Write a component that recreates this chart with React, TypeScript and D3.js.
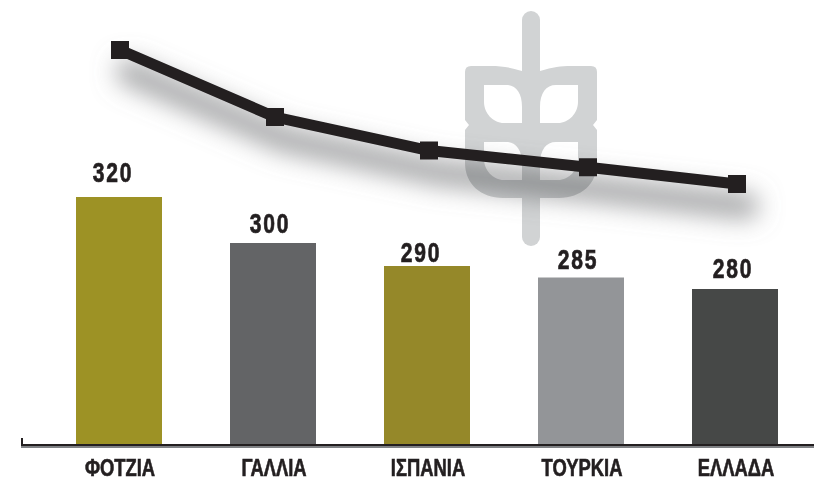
import React, { useEffect, useRef } from 'react';
import * as d3 from 'd3';

const categories = ['ΦΟΤΖΙΑ', 'ΓΑΛΛΙΑ', 'ΙΣΠΑΝΙΑ', 'ΤΟΥΡΚΙΑ', 'ΕΛΛΑΔΑ'];
const values = [320, 300, 290, 285, 280];
const barColors = ['#9d9225', '#636466', '#958829', '#939598', '#464847'];

// hand nudges, the original is laid out by hand and labels do not sit centred
const labelDx = [-6, -3, -6, -3, -2];
const labelGap = [15, 10, 4, 9, 11];
const pointDx = [1, 2, 2, 7, 2];

// no condensed face is installed, so Liberation Sans gets squeezed
const FONT = '"Liberation Sans", sans-serif';
const INK = '#231f20';

const App = () => {
  const container = useRef<HTMLDivElement | null>(null);

  useEffect(() => {
    if (!container.current) return;
    d3.select(container.current).select('svg').remove();

    const width = 814, height = 480, baseline = 445;

    const svg = d3.select(container.current)
      .append('svg')
      .attr('width', width)
      .attr('height', height)
      .style('position', 'absolute')
      .style('left', 0)
      .style('top', 0);

    const x = d3.scaleBand<string>()
      .domain(categories)
      .range([76, 778])
      .paddingInner(68 / 154)
      .paddingOuter(0);

    const yBar = d3.scaleLinear().domain([280, 320]).range([289, 197]);
    const yLine = d3.scaleLinear().domain([280, 320]).range([184, 50]);

    const blur = svg.append('defs').append('filter')
      .attr('id', 'shade')
      .attr('x', '-20%').attr('y', '-60%')
      .attr('width', '140%').attr('height', '220%');
    blur.append('feGaussianBlur').attr('stdDeviation', 12);

    // wheat emblem, left half is mirrored for the right one
    const wheat = svg.append('g').attr('transform', 'translate(531,0)');
    const leaf = 'M-9,71 C-22,67 -30,66 -40,66 L-60,66 Q-66,66 -66,72 L-66,120 L-62,125 L-66,130 L-66,163 '
      + 'C-66,184 -50,198 -28,198 L-9,198 Z '
      + 'M-47,85 L-25,85 C-15,85 -9,93 -9,107 L-9,123 L-27,123 C-38,123 -47,113 -47,102 Z '
      + 'M-47,142 L-25,142 C-15,142 -9,150 -9,164 L-9,180 L-27,180 C-38,180 -47,170 -47,159 Z';
    [1, -1].forEach(s => {
      wheat.append('path')
        .attr('d', leaf)
        .attr('transform', `scale(${s},1)`)
        .attr('fill', '#d1d3d4')
        .attr('fill-rule', 'evenodd');
    });
    wheat.append('rect')
      .attr('x', -9).attr('y', 11)
      .attr('width', 18).attr('height', 235)
      .attr('rx', 9)
      .attr('fill', '#d1d3d4');

    const points = values.map((v, i) => [(x(categories[i]) as number) + x.bandwidth() / 2 + pointDx[i], yLine(v)] as [number, number]);
    const line = d3.line();

    // soft shadow under the line
    svg.append('path')
      .attr('d', line(points))
      .attr('transform', 'translate(9,22)')
      .attr('fill', 'none')
      .attr('stroke', '#6d6e71')
      .attr('stroke-width', 26)
      .attr('stroke-linecap', 'round')
      .attr('opacity', 0.6)
      .style('mix-blend-mode', 'multiply')
      .attr('filter', 'url(#shade)');

    svg.selectAll('.bar')
      .data(values)
      .enter()
      .append('rect')
      .attr('class', 'bar')
      .attr('x', (d, i) => x(categories[i]) as number)
      .attr('y', d => yBar(d))
      .attr('width', x.bandwidth())
      .attr('height', d => baseline + 2 - yBar(d))
      .attr('fill', (d, i) => barColors[i]);

    svg.selectAll('.value')
      .data(values)
      .enter()
      .append('text')
      .attr('class', 'value')
      .attr('transform', (d, i) => `translate(${(x(categories[i]) as number) + x.bandwidth() / 2 + labelDx[i]},${yBar(d) - labelGap[i]}) scale(0.78,1)`)
      .attr('text-anchor', 'middle')
      .attr('font-family', FONT)
      .attr('font-weight', 700)
      .attr('font-size', 27)
      .attr('letter-spacing', 2.4)
      .attr('fill', INK)
      .attr('stroke', INK)
      .attr('stroke-width', 0.7)
      .text(d => d);

    // baseline with its small left tick and thin grey edge
    svg.append('rect').attr('x', 21).attr('y', baseline + 1).attr('width', width - 21).attr('height', 2).attr('fill', '#808285');
    svg.append('path')
      .attr('d', `M22,${baseline - 7}V${baseline}H${width}`)
      .attr('fill', 'none')
      .attr('stroke', INK)
      .attr('stroke-width', 2);

    const axis = svg.append('g')
      .attr('transform', `translate(1,${baseline})`)
      .call(d3.axisBottom(x).tickSize(0).tickPadding(15));
    axis.select('.domain').remove();
    axis.selectAll('text')
      .attr('transform', 'scale(0.8,1)')
      .attr('font-family', FONT)
      .attr('font-weight', 700)
      .attr('font-size', 23)
      .attr('fill', INK)
      .attr('stroke', INK)
      .attr('stroke-width', 0.6);

    svg.append('path')
      .attr('d', line(points))
      .attr('fill', 'none')
      .attr('stroke', INK)
      .attr('stroke-width', 11);

    svg.selectAll('.marker')
      .data(points)
      .enter()
      .append('rect')
      .attr('class', 'marker')
      .attr('x', d => d[0] - 9)
      .attr('y', d => d[1] - 9)
      .attr('width', 18)
      .attr('height', 18)
      .attr('fill', INK);
  }, []);

  return <div ref={container}></div>;
};

export default App;
